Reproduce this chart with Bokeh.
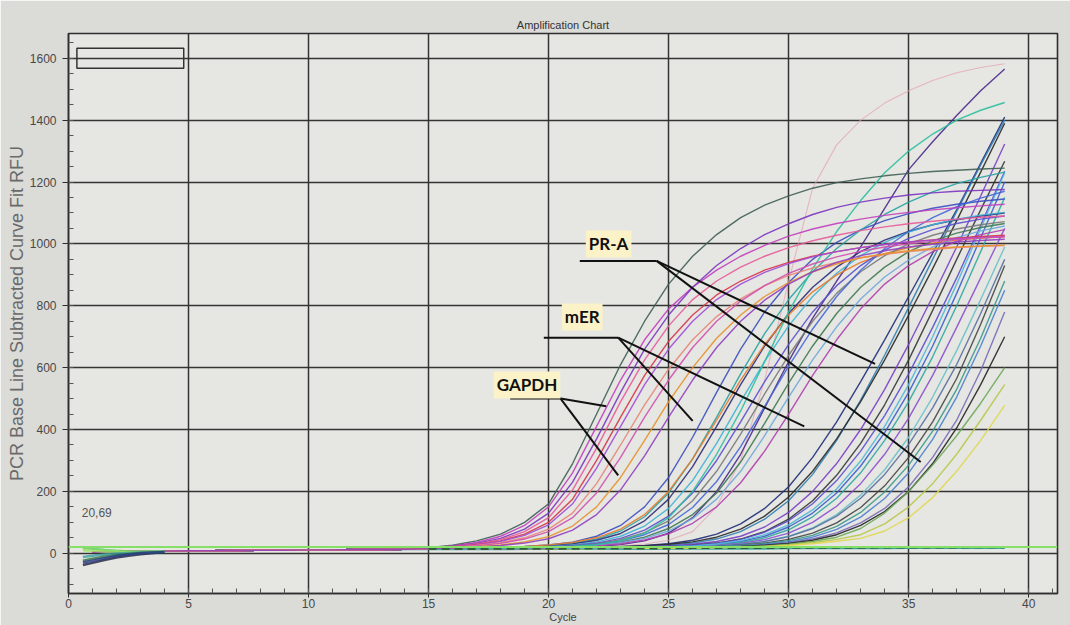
from bokeh.plotting import figure
from bokeh.models import Label, Span, SingleIntervalTicker, Range1d
from bokeh.embed import file_html
from bokeh.resources import INLINE

# ---------------- data (RFU values) ----------------
CYCLES_EARLY = [1, 2, 3, 4, 5, 6, 7, 8, 9, 10, 11, 12, 13, 14]
BASE_EARLY = [3, 5, 6, 7, 8, 8, 9, 10, 10, 11, 11, 12, 12, 13]
CYCLES_AMP = [15, 16, 17, 18, 19, 20, 21, 22, 23, 24, 25, 26, 27,
              28, 29, 30, 31, 32, 33, 34, 35, 36, 37, 38, 39]

# GAPDH group
GAPDH_1 = [18, 26, 40, 62, 100, 160, 290, 450, 610, 750, 870, 960, 1030, 1085, 1125, 1155, 1180, 1198, 1210, 1220, 1228, 1234, 1238, 1242, 1245]
GAPDH_2 = [17, 24, 35, 55, 90, 150, 260, 410, 560, 690, 790, 860, 915, 960, 995, 1025, 1048, 1066, 1080, 1092, 1102, 1110, 1117, 1123, 1128]
GAPDH_3 = [16, 22, 32, 48, 78, 130, 230, 370, 520, 660, 770, 860, 930, 985, 1030, 1065, 1095, 1118, 1135, 1148, 1158, 1165, 1170, 1173, 1176]
GAPDH_4 = [16, 21, 30, 44, 70, 115, 205, 340, 490, 625, 735, 820, 880, 925, 960, 988, 1010, 1028, 1043, 1055, 1065, 1073, 1080, 1086, 1090]
GAPDH_5 = [16, 20, 28, 40, 62, 100, 175, 300, 440, 575, 685, 770, 835, 880, 915, 940, 960, 975, 988, 998, 1006, 1013, 1019, 1024, 1028]
GAPDH_6 = [15, 20, 27, 38, 58, 92, 160, 275, 410, 545, 660, 750, 820, 870, 908, 936, 958, 975, 988, 998, 1006, 1012, 1017, 1021, 1024]
GAPDH_7 = [15, 19, 25, 34, 50, 78, 130, 225, 350, 480, 595, 690, 765, 822, 865, 898, 922, 940, 955, 966, 975, 982, 988, 992, 995]
GAPDH_8 = [15, 18, 24, 32, 46, 70, 115, 195, 310, 440, 560, 665, 750, 815, 865, 905, 935, 958, 976, 990, 1000, 1008, 1014, 1019, 1023]
GAPDH_9 = [15, 17, 21, 27, 37, 54, 88, 150, 245, 365, 490, 600, 695, 770, 830, 875, 910, 935, 955, 968, 978, 985, 990, 993, 996]
GAPDH_10 = [15, 17, 20, 25, 33, 47, 75, 125, 205, 315, 440, 560, 665, 750, 818, 870, 910, 940, 962, 978, 990, 999, 1006, 1011, 1015]

# mER group
MER_1 = [15, 16, 17, 19, 22, 27, 36, 55, 90, 150, 245, 375, 520, 660, 780, 875, 950, 1005, 1045, 1075, 1098, 1115, 1128, 1138, 1145]
MER_2 = [15, 16, 17, 18, 21, 25, 32, 46, 72, 118, 195, 305, 440, 580, 710, 820, 910, 985, 1045, 1095, 1135, 1168, 1195, 1215, 1232]
MER_3 = [15, 16, 17, 18, 20, 24, 30, 42, 64, 105, 175, 280, 410, 545, 670, 775, 860, 925, 975, 1012, 1040, 1062, 1078, 1090, 1100]
MER_4 = [14, 15, 16, 17, 19, 22, 27, 37, 55, 88, 145, 235, 355, 490, 620, 735, 830, 905, 962, 1005, 1038, 1062, 1080, 1093, 1102]
MER_5 = [15, 16, 17, 19, 22, 27, 35, 50, 78, 125, 200, 305, 430, 560, 675, 770, 845, 900, 940, 968, 988, 1002, 1012, 1019, 1024]
MER_6 = [14, 15, 16, 17, 19, 21, 25, 33, 48, 75, 120, 195, 300, 425, 555, 675, 780, 865, 930, 980, 1018, 1046, 1066, 1080, 1090]
MER_7 = [14, 15, 16, 17, 18, 20, 24, 31, 44, 67, 105, 170, 265, 385, 515, 640, 750, 840, 910, 962, 1000, 1028, 1048, 1062, 1072]
MER_8 = [14, 15, 16, 17, 18, 20, 23, 29, 40, 60, 93, 148, 232, 345, 475, 605, 725, 830, 915, 985, 1040, 1085, 1120, 1148, 1170]
MER_9 = [14, 15, 16, 16, 17, 19, 22, 27, 36, 52, 80, 125, 195, 295, 420, 550, 670, 775, 860, 925, 975, 1010, 1035, 1053, 1066]
MER_10 = [14, 14, 15, 16, 17, 19, 21, 26, 34, 48, 72, 112, 175, 265, 380, 505, 625, 732, 822, 893, 948, 990, 1020, 1042, 1058]
MER_11 = [14, 14, 15, 16, 17, 18, 20, 24, 31, 43, 63, 97, 150, 228, 330, 450, 575, 690, 790, 870, 930, 975, 1008, 1030, 1046]
MER_12 = [14, 14, 15, 16, 17, 19, 22, 28, 40, 65, 115, 200, 320, 460, 620, 780, 920, 1040, 1140, 1230, 1300, 1355, 1400, 1432, 1457]

# PR-A group
PRA_1 = [14, 14, 15, 15, 16, 17, 18, 20, 24, 30, 42, 70, 150, 300, 560, 880, 1180, 1320, 1400, 1455, 1495, 1528, 1553, 1570, 1582]
PRA_2 = [14, 14, 15, 15, 16, 17, 19, 22, 28, 40, 65, 115, 200, 320, 470, 620, 760, 880, 990, 1115, 1240, 1330, 1415, 1495, 1565]
PRA_3 = [14, 14, 15, 15, 16, 17, 18, 19, 21, 25, 31, 42, 62, 95, 145, 215, 310, 425, 555, 690, 830, 970, 1110, 1260, 1410]
PRA_4 = [14, 14, 15, 15, 16, 16, 17, 18, 20, 22, 26, 33, 46, 70, 110, 170, 255, 365, 495, 640, 795, 950, 1105, 1255, 1400]
PRA_5 = [14, 14, 15, 15, 16, 17, 18, 19, 21, 24, 29, 37, 52, 78, 120, 182, 265, 370, 490, 625, 770, 920, 1075, 1232, 1390]
PRA_6 = [14, 14, 15, 15, 16, 16, 17, 18, 19, 21, 24, 29, 38, 55, 85, 132, 200, 290, 400, 530, 675, 830, 990, 1155, 1323]
PRA_7 = [14, 14, 15, 15, 16, 16, 17, 17, 18, 20, 22, 26, 33, 46, 70, 110, 170, 252, 355, 480, 625, 785, 950, 1110, 1267]
PRA_8 = [14, 14, 15, 15, 15, 16, 16, 17, 18, 19, 21, 24, 29, 38, 55, 85, 130, 195, 282, 390, 520, 670, 840, 1020, 1200]
PRA_9 = [14, 14, 15, 15, 15, 16, 16, 17, 18, 19, 20, 23, 27, 35, 50, 76, 118, 178, 260, 365, 490, 635, 800, 975, 1150]
PRA_10 = [14, 14, 15, 15, 15, 16, 16, 17, 17, 18, 20, 22, 26, 32, 44, 65, 100, 152, 225, 320, 437, 575, 730, 890, 1050]
PRA_11 = [14, 14, 15, 15, 15, 16, 16, 17, 17, 18, 19, 21, 24, 29, 38, 55, 82, 125, 188, 270, 375, 505, 655, 820, 990]
PRA_12 = [14, 14, 15, 15, 15, 16, 16, 16, 17, 18, 19, 21, 24, 29, 38, 54, 80, 120, 178, 255, 352, 470, 610, 775, 950]
PRA_13 = [14, 14, 15, 15, 15, 16, 16, 16, 17, 18, 19, 20, 22, 26, 33, 45, 65, 98, 148, 218, 310, 425, 565, 740, 930]
PRA_14 = [14, 14, 15, 15, 15, 15, 16, 16, 17, 17, 18, 20, 22, 25, 31, 41, 58, 87, 132, 198, 285, 395, 530, 695, 880]
PRA_15 = [14, 14, 15, 15, 15, 15, 16, 16, 17, 17, 18, 19, 21, 24, 29, 37, 52, 77, 117, 177, 260, 368, 505, 670, 850]
PRA_16 = [14, 14, 15, 15, 15, 15, 16, 16, 16, 17, 18, 19, 20, 23, 27, 34, 46, 66, 98, 145, 215, 310, 430, 590, 780]
PRA_17 = [14, 14, 15, 15, 15, 15, 16, 16, 16, 17, 18, 19, 20, 22, 26, 32, 42, 60, 90, 135, 200, 290, 405, 545, 700]
PRA_18 = [14, 14, 14, 15, 15, 15, 15, 16, 16, 17, 17, 18, 19, 21, 24, 29, 38, 52, 80, 130, 200, 285, 380, 485, 600]
PRA_19 = [14, 14, 14, 15, 15, 15, 15, 16, 16, 16, 17, 18, 19, 20, 22, 27, 34, 45, 60, 95, 150, 225, 320, 430, 545]
PRA_20 = [14, 14, 14, 15, 15, 15, 15, 15, 16, 16, 17, 17, 18, 19, 21, 25, 31, 39, 48, 72, 115, 180, 265, 365, 478]
PRA_21 = [14, 14, 15, 15, 15, 16, 16, 17, 18, 19, 21, 25, 32, 45, 68, 105, 160, 235, 330, 445, 580, 730, 890, 1060, 1235]
PRA_22 = [14, 14, 15, 15, 15, 16, 16, 17, 18, 19, 21, 24, 30, 41, 60, 92, 140, 208, 298, 410, 545, 700, 870, 1050, 1230]

# non-amplifying wells
FLAT_1 = [14, 14, 14, 15, 15, 15, 15, 16, 16, 16, 16, 17, 17, 17, 17, 18, 18, 18, 18, 19, 19, 19, 19, 20, 20]
FLAT_2 = [13, 13, 13, 13, 14, 14, 14, 14, 14, 15, 15, 15, 15, 15, 16, 16, 16, 16, 16, 17, 17, 17, 17, 17, 18]
FLAT_3 = [12, 12, 12, 12, 13, 13, 13, 13, 13, 13, 14, 14, 14, 14, 14, 15, 15, 15, 15, 15, 16, 16, 16, 16, 16]

# first cycles (curve-fit start)
EARLY_X = [0.6, 1, 1.5, 2, 2.5, 3, 4]
EARLY_1 = [-38, -31, -22, -14, -8, -3, 4]
EARLY_2 = [18, 15, 11, 8, 6, 5, 6]
EARLY_3 = [10, 8, 6, 5, 5, 5, 6]
EARLY_4 = [-12, -8, -4, -1, 1, 3, 5]
EARLY_5 = [-24, -18, -11, -6, -2, 1, 4]
EARLY_6 = [-30, -24, -16, -9, -4, 0, 4]

THRESHOLD = 20.69
THRESHOLD_TEXT = "20,69"
THRESHOLD_LABEL_POS = [0.55, 118]

LEGEND_BOX = [0.35, 4.8, 1568, 1632]  # left, right, bottom, top

ANNOT_TEXT = ["PR-A", "mER", "GAPDH"]
ANNOT_TEXT_X = [22.5, 21.4, 19.1]
ANNOT_TEXT_Y = [1000, 764, 544]
ANNOT_BAR_X0 = [21.3, 19.8, 18.4]
ANNOT_BAR_X1 = [24.5, 22.9, 20.5]
ANNOT_BAR_Y = [945, 697, 500]
ANNOT_TIP_X = [[33.6, 35.5], [26.0, 30.65], [22.4, 22.9]]
ANNOT_TIP_Y = [[612, 295], [428, 410], [475, 252]]

X_TICK_STEP = 5
Y_TICK_STEP = 200

# ---------------- colours / widths ----------------
FLAT_SERIES = [(FLAT_1, "#2f6f3f"), (FLAT_2, "#5ccf5c"), (FLAT_3, "#3aa0a0")]
PRA_SERIES = [
    (PRA_1, "#e6a4b4"), (PRA_2, "#4a2a8c"), (PRA_3, "#1f2f7a"), (PRA_4, "#2f7fb5"),
    (PRA_5, "#2a2a2a"), (PRA_6, "#7a3fc8"), (PRA_7, "#353535"), (PRA_8, "#3a5fcd"),
    (PRA_9, "#2fa8a0"), (PRA_10, "#8a4fd0"), (PRA_11, "#6cc0c8"), (PRA_12, "#5a6fa0"),
    (PRA_13, "#454545"), (PRA_14, "#3a9a8a"), (PRA_15, "#4a80d0"), (PRA_16, "#7a6ab8"),
    (PRA_17, "#222222"), (PRA_18, "#6aaa5a"), (PRA_19, "#b8c848"), (PRA_20, "#e0d850"),
    (PRA_21, "#5a4fd0"), (PRA_22, "#4fb8d8"),
]
MER_SERIES = [
    (MER_1, "#3a4fc0"), (MER_2, "#28a3a3"), (MER_3, "#2b2d7a"), (MER_4, "#3fb3d6"),
    (MER_5, "#e47b2c"), (MER_6, "#5b4fcf"), (MER_7, "#7a7a7a"), (MER_8, "#4568d8"),
    (MER_9, "#3e7a52"), (MER_10, "#6fa8dc"), (MER_11, "#b03fb0"), (MER_12, "#2bbf9f"),
]
GAPDH_SERIES = [
    (GAPDH_1, "#3f5f55"), (GAPDH_2, "#c23fbf"), (GAPDH_3, "#7b35c0"), (GAPDH_4, "#e85a9a"),
    (GAPDH_5, "#d6364a"), (GAPDH_6, "#a04cd8"), (GAPDH_7, "#e8857a"), (GAPDH_8, "#d050b0"),
    (GAPDH_9, "#e8902a"), (GAPDH_10, "#9040c0"),
]
EARLY_SERIES = [(EARLY_1, "#1e2040"), (EARLY_2, "#5ccf5c"), (EARLY_3, "#9be060"),
                (EARLY_4, "#3aa0a0"), (EARLY_5, "#2f6f3f"), (EARLY_6, "#2a3a8a")]

# ---------------- figure ----------------
p = figure(width=1070, height=625, x_range=Range1d(0, 41.2), y_range=Range1d(-130, 1680),
           output_backend="svg", toolbar_location=None,
           min_border_left=68, min_border_right=13, min_border_top=33, min_border_bottom=28,
           title="Amplification Chart")
p.background_fill_color = "#e6e6e2"
p.border_fill_color = "#dbdbd8"
p.outline_line_color = "#2e2e2e"
p.outline_line_width = 1.6

p.title.align = "center"
p.title.text_font = "Liberation Sans"
p.title.text_font_size = "11px"
p.title.text_font_style = "normal"
p.title.text_color = "#333333"
p.title.standoff = 5

p.xaxis.ticker = SingleIntervalTicker(interval=X_TICK_STEP, num_minor_ticks=5)
p.yaxis.ticker = SingleIntervalTicker(interval=Y_TICK_STEP, num_minor_ticks=4)
for g in (p.xgrid, p.ygrid):
    g.grid_line_color = "#343434"
    g.grid_line_width = 1.5
for ax in (p.xaxis, p.yaxis):
    ax.axis_line_color = "#2e2e2e"
    ax.axis_line_width = 1.5
    ax.major_tick_line_color = "#2e2e2e"
    ax.minor_tick_line_color = "#555555"
    ax.major_tick_in = 0
    ax.minor_tick_in = 5
    ax.minor_tick_out = 0
    ax.major_label_text_font = "Liberation Sans"
    ax.major_label_text_font_size = "12px"
    ax.major_label_text_color = "#484848"
    ax.axis_label_text_font = "Liberation Sans"
    ax.axis_label_text_font_style = "normal"
p.xaxis.major_tick_out = 4
p.xaxis.major_label_standoff = 1
p.xaxis.axis_label = "Cycle"
p.xaxis.axis_label_text_font_size = "11px"
p.xaxis.axis_label_text_color = "#444444"
p.xaxis.axis_label_standoff = 0
p.yaxis.major_tick_out = 6
p.yaxis.major_label_standoff = 6
p.yaxis.axis_label = "PCR Base Line Subtracted Curve Fit RFU"
p.yaxis.axis_label_text_font_size = "18px"
p.yaxis.axis_label_text_color = "#6a6a6a"
p.yaxis.axis_label_standoff = 0

p.add_layout(Span(location=THRESHOLD, dimension="width", line_color="#86e068", line_width=2))

groups = FLAT_SERIES + PRA_SERIES + MER_SERIES + GAPDH_SERIES
xs = [CYCLES_EARLY + CYCLES_AMP for _ in groups]
ys = [BASE_EARLY + vals for vals, _ in groups]
cols = [c for _, c in groups]
alphas = [0.75 if vals is PRA_1 else 0.9 for vals, _ in groups]
widths = [1.1 if vals is PRA_1 else 1.4 for vals, _ in groups]
p.multi_line(xs, ys, line_color=cols, line_width=widths, line_alpha=alphas)

p.multi_line([EARLY_X for _ in EARLY_SERIES], [v for v, _ in EARLY_SERIES],
             line_color=[c for _, c in EARLY_SERIES], line_width=2.5, line_alpha=0.8)
p.line(CYCLES_AMP, FLAT_1, line_color="#2f5f3a", line_width=2.2, line_dash="8 5")

# empty legend box
p.quad(left=[LEGEND_BOX[0]], right=[LEGEND_BOX[1]], bottom=[LEGEND_BOX[2]], top=[LEGEND_BOX[3]],
       fill_alpha=0, line_color="#333333", line_width=1.5)

# threshold label
p.add_layout(Label(x=THRESHOLD_LABEL_POS[0], y=THRESHOLD_LABEL_POS[1], text=THRESHOLD_TEXT,
                   text_font="Liberation Sans", text_font_size="12px", text_color="#555555",
                   text_baseline="bottom", text_align="left"))

# annotation pointers
for i, name in enumerate(ANNOT_TEXT):
    p.line([ANNOT_BAR_X0[i], ANNOT_BAR_X1[i]], [ANNOT_BAR_Y[i], ANNOT_BAR_Y[i]],
           line_color="#111111", line_width=2)
    for tx, ty in zip(ANNOT_TIP_X[i], ANNOT_TIP_Y[i]):
        p.line([ANNOT_BAR_X1[i], tx], [ANNOT_BAR_Y[i], ty], line_color="#111111", line_width=2)
    p.add_layout(Label(x=ANNOT_TEXT_X[i], y=ANNOT_TEXT_Y[i], text=name,
                       text_font="Lato", text_font_style="bold", text_font_size="17px",
                       text_color="#111111", text_align="center", text_baseline="middle",
                       background_fill_color="#fbf2c8", padding=3))

open("out.html", "w").write(file_html(p, INLINE))
